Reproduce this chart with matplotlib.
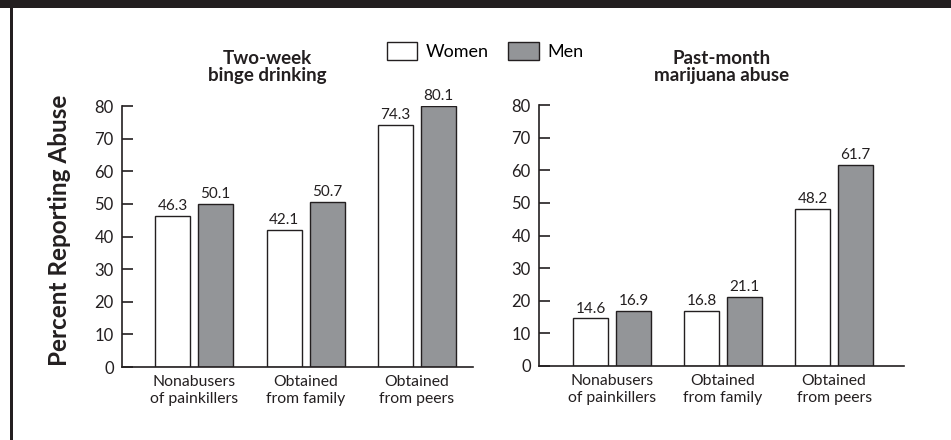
import matplotlib.pyplot as plt
import numpy as np
from matplotlib.patches import Patch, Rectangle

plt.rcParams['font.family'] = ['Lato', 'DejaVu Sans']

# dados
categorias = ['Nonabusers\nof painkillers', 'Obtained\nfrom family', 'Obtained\nfrom peers']
binge_mulheres = [46.3, 42.1, 74.3]
binge_homens = [50.1, 50.7, 80.1]
maconha_mulheres = [14.6, 16.8, 48.2]
maconha_homens = [16.9, 21.1, 61.7]
yticks = [0, 10, 20, 30, 40, 50, 60, 70, 80]

escuro = '#231f20'
cinza = '#939598'

fig = plt.figure(figsize=(9.51, 4.4), dpi=100)

# moldura (faixa superior e linha lateral)
fig.patches.append(Rectangle((0, 1 - 8 / 440), 1, 8 / 440, transform=fig.transFigure,
                             facecolor=escuro, edgecolor='none'))
fig.patches.append(Rectangle((10 / 951, 0), 3 / 951, 1, transform=fig.transFigure,
                             facecolor=escuro, edgecolor='none'))

ax1 = fig.add_axes([122 / 951, 1 - 367 / 440, 351 / 951, 261 / 440])
ax2 = fig.add_axes([539 / 951, 1 - 366 / 440, 365 / 951, 261 / 440])

x = np.arange(len(categorias))
w = 0.314
off = 0.193

def painel(ax, mulheres, homens, xlim):
    b1 = ax.bar(x - off, mulheres, w, facecolor='white', edgecolor=escuro, linewidth=1)
    b2 = ax.bar(x + off, homens, w, facecolor=cinza, edgecolor=escuro, linewidth=1)
    for b in (b1, b2):
        lab = ax.bar_label(b, fmt='%.1f', padding=2, fontsize=11, color=escuro)
        for t in lab:
            t.set_clip_on(False)
    ax.set_ylim(0, 80)
    ax.set_xlim(*xlim)
    ax.set_yticks(yticks)
    ax.set_xticks(x)
    ax.set_xticklabels(categorias, fontsize=11.3, color=escuro, linespacing=1.25)
    ax.tick_params(axis='y', direction='in', length=8, width=1.2, colors=escuro,
                   labelsize=12, pad=6)
    ax.tick_params(axis='x', length=0, pad=6, colors=escuro)
    for s in ['top', 'right']:
        ax.spines[s].set_visible(False)
    for s in ['left', 'bottom']:
        ax.spines[s].set_color(escuro)
        ax.spines[s].set_linewidth(1.2)

painel(ax1, binge_mulheres, binge_homens, (-0.646, 2.502))
painel(ax2, maconha_mulheres, maconha_homens, (-0.658, 2.63))

fig.text(267 / 951, 1 - 67 / 440, 'Two-week\nbinge drinking', ha='center', va='center',
         fontsize=13.5, fontweight='bold', color=escuro, linespacing=0.95)
fig.text(722 / 951, 1 - 67 / 440, 'Past-month\nmarijuana abuse', ha='center', va='center',
         fontsize=13.5, fontweight='bold', color=escuro, linespacing=0.95)

fig.text(60 / 951, 1 - 230 / 440, 'Percent Reporting Abuse', rotation=90, ha='center',
         va='center', fontsize=17.5, fontweight='bold', color=escuro)

handles = [Patch(facecolor='white', edgecolor=escuro, linewidth=1, label='Women'),
           Patch(facecolor=cinza, edgecolor=escuro, linewidth=1, label='Men')]
fig.legend(handles=handles, ncol=2, frameon=False, loc='center',
           bbox_to_anchor=(485 / 951, 1 - 51 / 440), fontsize=13,
           handlelength=1.7, handleheight=1.2, handletextpad=0.45, columnspacing=1.1)

fig.savefig('out.png', dpi=100)
